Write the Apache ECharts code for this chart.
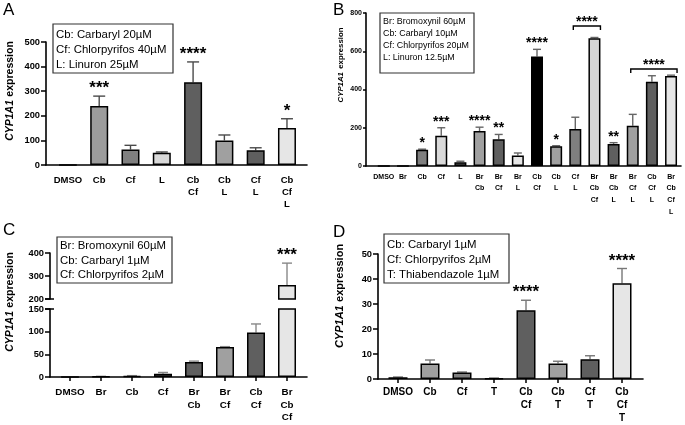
<!DOCTYPE html>
<html><head><meta charset="utf-8">
<script src="https://cdn.jsdelivr.net/npm/echarts@6/dist/echarts.min.js"></script>
<style>html,body{margin:0;padding:0;background:#fff}#c{width:685px;height:425px}</style>
</head><body><div id="c"></div>
<script>
// ---------- DATA ----------
const catsA = ['DMSO','Cb','Cf','L','Cb\nCf','Cb\nL','Cf\nL','Cb\nCf\nL'];
const valsA = [1, 240, 63, 50, 336, 100, 60, 150];
const semA  = [0, 40, 17, 3, 83, 22, 10, 38];
const starsA = ['', '***', '', '', '****', '', '', '*'];
const legendA = ['Cb: Carbaryl 20µM', 'Cf: Chlorpyrifos 40µM', 'L: Linuron 25µM'];

const catsB = ['DMSO','Br','Cb','Cf','L','Br\nCb','Br\nCf','Br\nL','Cb\nCf','Cb\nL','Cf\nL','Br\nCb\nCf','Br\nCb\nL','Br\nCf\nL','Cb\nCf\nL','Br\nCb\nCf\nL'];
const valsB = [0, 1, 85, 158, 20, 183, 140, 55, 572, 103, 193, 668, 115, 210, 440, 470];
const semB  = [0, 0, 3, 42, 5, 20, 25, 13, 38, 3, 62, 4, 7, 60, 32, 5];
const starsB = ['', '', '*', '***', '', '****', '**', '', '****', '*', '', '', '**', '', '', ''];
const bracketsB = [{from: 10, to: 11, level: 732, label: '****'}, {from: 13, to: 15, level: 507, label: '****'}];
const legendB = ['Br: Bromoxynil 60µM', 'Cb: Carbaryl 10µM', 'Cf: Chlorpyrifos 20µM', 'L: Linuron 12.5µM'];

const catsC = ['DMSO','Br','Cb','Cf','Br\nCb','Br\nCf','Cb\nCf','Br\nCb\nCf'];
const valsC = [0.5, 1, 2, 7, 33, 66, 98, 261];
const semC  = [0, 0.5, 1, 3, 2, 1, 19, 95];
const starsC = ['', '', '', '', '', '', '', '***'];
const legendC = ['Br: Bromoxynil 60µM', 'Cb: Carbaryl 1µM', 'Cf: Chlorpyrifos 2µM'];

const catsD = ['DMSO','Cb','Cf','T','Cb\nCf','Cb\nT','Cf\nT','Cb\nCf\nT'];
const valsD = [0.7, 6.2, 2.6, 0.3, 27.5, 6.2, 7.9, 38.3];
const semD  = [0.1, 1.4, 0.2, 0.1, 4.0, 0.9, 1.4, 5.9];
const starsD = ['', '', '', '', '****', '', '', '****'];
const legendD = ['Cb: Carbaryl 1µM', 'Cf: Chlorpyrifos 2µM', 'T: Thiabendazole 1µM'];

// ---------- STYLES ----------
const colA = ['#404040','#9c9c9c','#7f7f7f','#d9d9d9','#5f5f5f','#a0a0a0','#5f5f5f','#e6e6e6'];
const colB = ['#404040','#404040','#7f7f7f','#d9d9d9','#5f5f5f','#a0a0a0','#5f5f5f','#e6e6e6','#000000','#a0a0a0','#7f7f7f','#d6d6d6','#5f5f5f','#a0a0a0','#5f5f5f','#e6e6e6'];
const colC = ['#404040','#404040','#7f7f7f','#7f7f7f','#5f5f5f','#a0a0a0','#5f5f5f','#e6e6e6'];
const colD = ['#404040','#a0a0a0','#7f7f7f','#d9d9d9','#5f5f5f','#a0a0a0','#5f5f5f','#e6e6e6'];
const FONT = '"Liberation Sans", Arial, Helvetica, sans-serif';

const idx = n => Array.from({length: n}, (_, i) => i);

function xAx(gi, cats, min, max, o) {
  return {
    type: 'value', gridIndex: gi, min, max, show: o.show !== false,
    axisLine: {show: true, onZero: false, lineStyle: {color: '#000', width: 1.6}},
    axisTick: {show: !!o.ticks, customValues: idx(cats.length), length: 4, lineStyle: {color: '#000', width: 1.5}},
    axisLabel: {show: o.labels !== false, customValues: idx(cats.length), formatter: v => cats[Math.round(v)],
      fontSize: o.fs, fontWeight: 'bold', color: '#000', lineHeight: o.lh, margin: o.margin, fontFamily: FONT, verticalAlign: 'top'},
    splitLine: {show: false}
  };
}
function yAx(gi, min, max, interval, o) {
  return {
    type: 'value', gridIndex: gi, min, max, interval,
    axisLine: {show: true, onZero: false, lineStyle: {color: '#000', width: 1.6}},
    axisTick: {show: true, length: o.tl, lineStyle: {color: '#000', width: 1.5}},
    axisLabel: {fontSize: o.fs, fontWeight: 'bold', color: '#000', margin: o.margin, fontFamily: FONT},
    splitLine: {show: false}
  };
}
function barSeries(gi, vals, cols, bw) {
  return {
    type: 'bar', xAxisIndex: gi, yAxisIndex: gi, barWidth: bw, clip: true, z: 3,
    itemStyle: {borderColor: '#000', borderWidth: 1.5},
    data: vals.map((v, i) => ({value: [i, v], itemStyle: {color: cols[i]}})),
    animation: false, silent: true
  };
}
function errSeries(gi, vals, sem, capW, color) {
  return {
    type: 'custom', xAxisIndex: gi, yAxisIndex: gi, clip: true, z: 2, silent: true, animation: false,
    data: vals.map((v, i) => [i, v, sem[i]]),
    renderItem: (params, api) => {
      const i = api.value(0), v = api.value(1), e = api.value(2);
      if (!(e > 0)) return {type: 'group', children: []};
      const p0 = api.coord([i, v]), p1 = api.coord([i, v + e]);
      return {type: 'group', children: [
        {type: 'line', shape: {x1: p0[0], y1: p0[1], x2: p1[0], y2: p1[1]}, style: {stroke: color, lineWidth: 1.4}},
        {type: 'line', shape: {x1: p1[0] - capW / 2, y1: p1[1], x2: p1[0] + capW / 2, y2: p1[1]}, style: {stroke: color, lineWidth: 1.4}}
      ]};
    }
  };
}
function starSeries(gi, vals, sem, stars, fs, gap) {
  return {
    type: 'custom', xAxisIndex: gi, yAxisIndex: gi, z: 4, silent: true, animation: false,
    data: vals.map((v, i) => [i, v + sem[i]]),
    renderItem: (params, api) => {
      const i = api.value(0);
      const s = stars[i];
      if (!s) return {type: 'group', children: []};
      const p = api.coord([i, api.value(1)]);
      return {type: 'text', x: p[0], y: p[1] - gap, style: {text: s, fontSize: fs, fontWeight: 'bold', fontFamily: FONT, fill: '#000', align: 'center', verticalAlign: 'bottom'}};
    }
  };
}
function bracketSeries(gi, brs, halfBar, fs) {
  return {
    type: 'custom', xAxisIndex: gi, yAxisIndex: gi, z: 4, silent: true, animation: false,
    data: brs.map(b => [b.from, b.to, b.level]),
    renderItem: (params, api) => {
      const b = brs[params.dataIndex];
      const a = api.coord([api.value(0), api.value(2)]);
      const c = api.coord([api.value(1), api.value(2)]);
      const x1 = a[0] - 2, x2 = c[0] + halfBar, y = a[1];
      return {type: 'group', children: [
        {type: 'polyline', shape: {points: [[x1, y + 4], [x1, y], [x2, y], [x2, y + 4]]}, style: {stroke: '#000', lineWidth: 1.4, fill: null}},
        {type: 'text', x: (x1 + x2) / 2, y: y + 3, style: {text: b.label, fontSize: fs, fontWeight: 'bold', fontFamily: FONT, fill: '#000', align: 'center', verticalAlign: 'bottom'}}
      ]};
    }
  };
}
function legendBox(x, y, w, h, lines, fs, lh, pad, ty) {
  return {type: 'group', x, y, children: [
    {type: 'rect', shape: {x: 0, y: 0, width: w, height: h}, style: {fill: '#fff', stroke: '#333', lineWidth: 1.2}, z: 10},
    {type: 'text', x: pad, y: ty, z: 11, style: {text: lines.join('\n'), fontSize: fs, lineHeight: lh, fontFamily: FONT, fill: '#000', align: 'left', verticalAlign: 'top'}}
  ]};
}
function yTitle(x, y, fs) {
  return {type: 'text', x, y, rotation: Math.PI / 2, style: {
    text: '{i|CYP1A1} {n|expression}', align: 'center', verticalAlign: 'middle',
    rich: {i: {fontStyle: 'italic', fontWeight: 'bold', fontSize: fs, fontFamily: FONT, fill: '#000'},
           n: {fontWeight: 'bold', fontSize: fs, fontFamily: FONT, fill: '#000'}}}};
}
function letter(t, x, y) {
  return {type: 'text', x, y, style: {text: t, fontSize: 17, fontFamily: FONT, fill: '#000'}};
}
function breakCap(x, y) {
  return {type: 'line', shape: {x1: x - 5, y1: y, x2: x + 4, y2: y}, style: {stroke: '#000', lineWidth: 1.5}};
}

const chart = echarts.init(document.getElementById('c'), null, {renderer: 'canvas'});
chart.setOption({
  animation: false,
  backgroundColor: '#fff',
  grid: [
    {left: 46, top: 42, width: 261, height: 123},   // A
    {left: 366, top: 13, width: 315, height: 153},  // B
    {left: 50, top: 253, width: 257, height: 46},   // C upper
    {left: 50, top: 309, width: 257, height: 68},   // C lower
    {left: 378, top: 254, width: 265, height: 125}  // D
  ],
  xAxis: [
    xAx(0, catsA, -0.70, 7.64, {fs: 9.5, lh: 12, margin: 9}),
    xAx(1, catsB, -0.93, 15.52, {fs: 7, lh: 11.7, margin: 5}),
    {type: 'value', gridIndex: 2, min: -0.645, max: 7.645, show: false},
    xAx(3, catsC, -0.645, 7.645, {fs: 9.8, lh: 12.3, margin: 9.5, ticks: true}),
    xAx(4, catsD, -0.625, 7.656, {fs: 10, lh: 13, margin: 7, ticks: true})
  ],
  yAxis: [
    yAx(0, 0, 500, 100, {fs: 9.3, tl: 5, margin: 6}),
    yAx(1, 0, 800, 200, {fs: 7, tl: 3, margin: 4}),
    yAx(2, 200, 400, 100, {fs: 9.3, tl: 5, margin: 6}),
    yAx(3, 0, 150, 50, {fs: 9.3, tl: 5, margin: 6}),
    yAx(4, 0, 50, 10, {fs: 9.3, tl: 5, margin: 6})
  ],
  series: [
    barSeries(0, valsA, colA, 18), errSeries(0, valsA, semA, 12, '#4a4a4a'), starSeries(0, valsA, semA, starsA, 17, -1),
    barSeries(1, valsB, colB, 12), errSeries(1, valsB, semB, 8, '#666'), starSeries(1, valsB, semB, starsB, 14, -1),
    bracketSeries(1, bracketsB, 6, 14),
    barSeries(2, valsC, colC, 18), errSeries(2, valsC, semC, 10, '#888'), starSeries(2, valsC, semC, starsC, 17, -1),
    barSeries(3, valsC, colC, 18), errSeries(3, valsC, semC, 10, '#888'),
    barSeries(4, valsD, colD, 19), errSeries(4, valsD, semD, 10, '#777'), starSeries(4, valsD, semD, starsD, 17, -1)
  ],
  graphic: [
    letter('A', 3, 2), letter('B', 333, 2), letter('C', 3, 222), letter('D', 333, 224),
    yTitle(10, 91, 10.5), yTitle(341, 65, 7.8), yTitle(10, 302, 10.5), yTitle(340, 296, 11),
    breakCap(50, 299), breakCap(50, 309),
    legendBox(53, 24, 120, 49, legendA, 11.4, 15, 3, 3),
    legendBox(380, 13, 94, 60, legendB, 8.9, 12, 3, 3),
    legendBox(57, 237, 115, 46, legendC, 11.4, 14.5, 3, 2),
    legendBox(384, 234, 125, 49, legendD, 11.4, 15, 3, 3)
  ]
});
</script></body></html>
